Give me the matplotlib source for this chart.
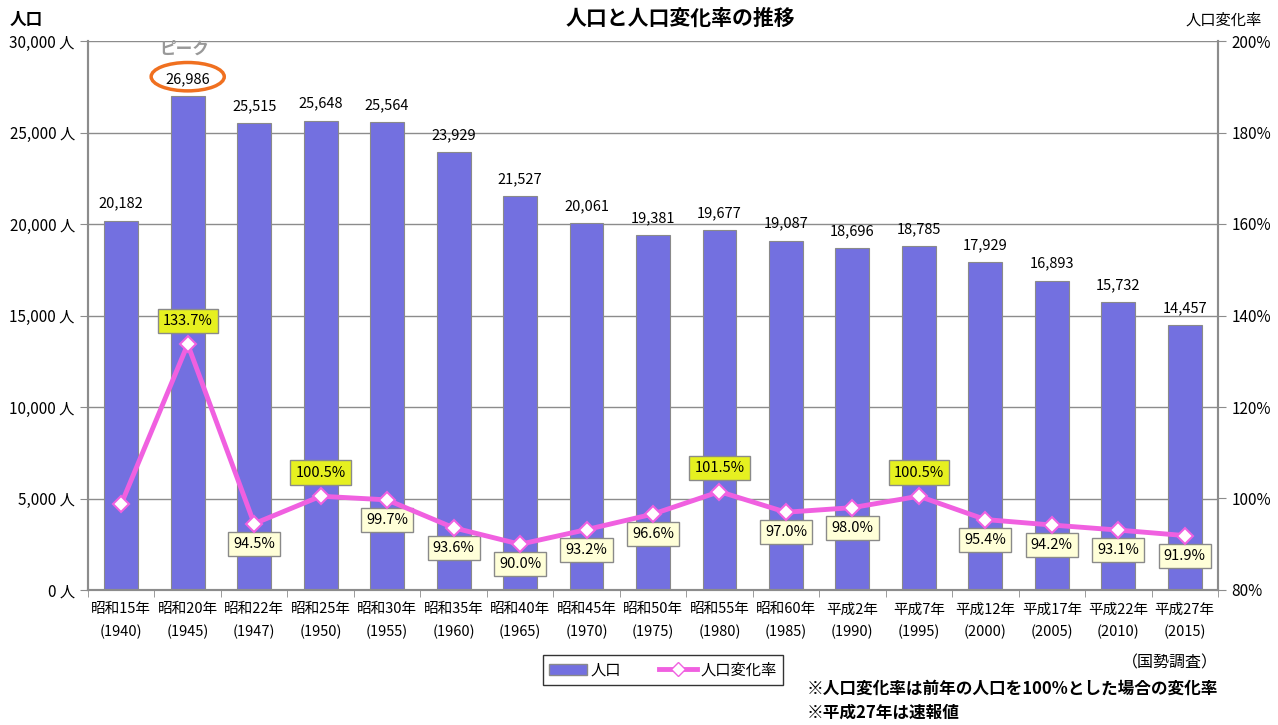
import matplotlib
matplotlib.use("Agg")
import matplotlib.pyplot as plt
from matplotlib.patches import Ellipse
from matplotlib.lines import Line2D
from matplotlib.patches import Patch

plt.rcParams['font.family'] = ['Noto Sans CJK JP', 'DejaVu Sans']

# data
eras = ["昭和15年", "昭和20年", "昭和22年", "昭和25年", "昭和30年", "昭和35年",
        "昭和40年", "昭和45年", "昭和50年", "昭和55年", "昭和60年", "平成2年",
        "平成7年", "平成12年", "平成17年", "平成22年", "平成27年"]
years = ["1940", "1945", "1947", "1950", "1955", "1960", "1965", "1970", "1975",
         "1980", "1985", "1990", "1995", "2000", "2005", "2010", "2015"]
population = [20182, 26986, 25515, 25648, 25564, 23929, 21527, 20061, 19381,
              19677, 19087, 18696, 18785, 17929, 16893, 15732, 14457]
change_rate = [98.8, 133.7, 94.5, 100.5, 99.7, 93.6, 90.0, 93.2, 96.6,
               101.5, 97.0, 98.0, 100.5, 95.4, 94.2, 93.1, 91.9]
# which labels are highlighted (drawn above the point)
highlight = [1, 3, 9, 12]

bar_color = "#7370E0"
line_color = "#F060E0"
grid_color = "#8C8C8C"

fig = plt.figure(figsize=(12.78, 7.25), dpi=100)
ax = fig.add_axes([88/1278, 135/725, 1130/1278, 549/725])
ax2 = ax.twinx()

x = list(range(len(population)))
ax.bar(x, population, width=0.51, color=bar_color, edgecolor="#8A8A8A", linewidth=0.8, zorder=2)
ax.set_xlim(-0.5, len(x) - 0.5)
ax.set_ylim(0, 30000)
ax.set_yticks(range(0, 30001, 5000))
ax.set_yticklabels(["{:,} 人".format(v) for v in range(0, 30001, 5000)], fontsize=11)
ax.yaxis.grid(True, color=grid_color, linewidth=1.0, zorder=0)
ax.set_axisbelow(True)

ax.set_xticks(x)
ax.set_xticklabels([e + "\n(" + y + ")" for e, y in zip(eras, years)], fontsize=10.5, linespacing=1.7)
ax.tick_params(axis='x', length=0, pad=9)
ax.set_xticks([i - 0.5 for i in range(len(x) + 1)], minor=True)
ax.tick_params(axis='x', which='minor', length=5, direction='out', color=grid_color)
ax.tick_params(axis='y', length=6, color=grid_color, direction='out')

for s in ['top']:
    ax.spines[s].set_visible(False)
    ax2.spines[s].set_visible(False)
for a in (ax, ax2):
    a.spines['left'].set_color(grid_color)
    a.spines['right'].set_color(grid_color)
    a.spines['bottom'].set_color(grid_color)
    a.spines['left'].set_linewidth(1.5)
    a.spines['right'].set_linewidth(1.5)
    a.spines['bottom'].set_linewidth(1.5)

for xi, v in zip(x, population):
    ax.text(xi, v + 550, "{:,}".format(v), ha='center', va='bottom', fontsize=10.5)

ax2.plot(x, change_rate, color=line_color, linewidth=3.5, marker='D', markersize=8,
         markerfacecolor='white', markeredgecolor=line_color, markeredgewidth=1.5, zorder=5)
ax2.set_ylim(80, 200)
ax2.set_yticks(range(80, 201, 20))
ax2.set_yticklabels(["{}%".format(v) for v in range(80, 201, 20)], fontsize=11)
ax2.tick_params(axis='y', length=6, color=grid_color, direction='out')

for i, v in enumerate(change_rate):
    if i == 0:
        continue
    if i in highlight:
        ax2.annotate("{:.1f}%".format(v), (i, v), xytext=(0, 17), textcoords='offset points',
                     ha='center', va='center', fontsize=10.5,
                     bbox=dict(boxstyle='square,pad=0.35', fc='#E6F020', ec='#8A8A8A', lw=1))
    else:
        ax2.annotate("{:.1f}%".format(v), (i, v), xytext=(0, -14.5), textcoords='offset points',
                     ha='center', va='center', fontsize=10.5,
                     bbox=dict(boxstyle='square,pad=0.35', fc='#FFFFD8', ec='#8A8A8A', lw=1))

# peak annotation
ax.add_patch(Ellipse((1, 28050), 1.1, 1550, fill=False, edgecolor='#F07020', linewidth=2.5,
                     zorder=6, clip_on=False))
ax.text(0.95, 29600, "ピーク", ha='center', va='center', fontsize=12, color='#999999',
        fontweight='bold')

fig.text(680/1278, 1 - 18/725, "人口と人口変化率の推移", ha='center', va='center',
         fontsize=15, fontweight='bold')
fig.text(10/1278, 1 - 20/725, "人口", ha='left', va='center', fontsize=12, fontweight='bold')
fig.text(1262/1278, 1 - 20/725, "人口変化率", ha='right', va='center', fontsize=11)

handles = [Patch(facecolor=bar_color, edgecolor="#8A8A8A"),
           Line2D([0], [0], color=line_color, lw=3.5, marker='D', markersize=7,
                  markerfacecolor='white', markeredgecolor=line_color)]
fig.legend(handles, ["人口", "人口変化率"], loc='center', bbox_to_anchor=(663/1278, 1 - 670/725),
           ncol=2, fancybox=False, edgecolor='black', fontsize=11, handlelength=2.5,
           handletextpad=0.2, columnspacing=2.5, borderpad=0.4)

fig.text(1218/1278, 1 - 663/725, "（国勢調査）", ha='right', va='center', fontsize=11.5)
fig.text(807/1278, 1 - 689/725, "※人口変化率は前年の人口を100%とした場合の変化率", ha='left',
         va='center', fontsize=12, fontweight='bold')
fig.text(807/1278, 1 - 713/725, "※平成27年は速報値", ha='left', va='center', fontsize=12,
         fontweight='bold')

fig.savefig("out.png", dpi=100)
